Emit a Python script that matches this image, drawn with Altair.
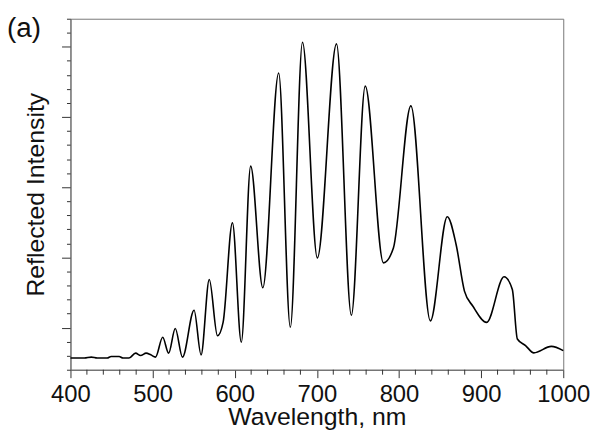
import altair as alt
import pandas as pd

# Values (wavelength in nm, intensity in arbitrary units)
wavelength = [400, 416.9, 425.4, 432.6, 444.7, 449.5, 459.2, 464.0, 471.2, 479.3,
              485.4, 492.1, 497.8, 503.5, 512.3, 519.5, 527.6, 536.4, 550.5, 559.0,
              569.0, 579.0, 585.9, 597.2, 608.0, 619.4, 634.2, 653.5, 667.7, 682.5,
              700.6, 723.9, 742.0, 758.9, 781.1, 793.2, 814.5, 838.2, 858.8, 869.6,
              879.7, 889.8, 906.7, 927.9, 938.0, 944.1, 954.1, 964.2, 985.5, 1000]
intensity = [0.83, 0.83, 0.90, 0.83, 0.83, 0.94, 0.94, 0.83, 0.83, 1.18,
             1.01, 1.18, 1.06, 0.90, 2.31, 1.18, 2.94, 0.90, 4.24, 1.06,
             6.43, 2.42, 3.39, 10.47, 1.96, 14.50, 5.84, 21.14, 3.02, 23.33,
             7.96, 23.21, 3.88, 20.20, 7.61, 8.67, 18.79, 3.48, 10.90, 8.90,
             5.60, 4.54, 3.37, 6.62, 5.72, 2.19, 1.72, 1.20, 1.66, 1.36]

x_major_ticks = list(range(400, 1001, 100))
x_minor_ticks = [v for v in range(400, 1001, 20) if v % 100 != 0]
y_ticks = list(range(0, 26))
panel_label = ["(a)"]

FONT = "Liberation Sans"

df = pd.DataFrame({"wavelength": wavelength, "intensity": intensity})
minor_df = pd.DataFrame({"wavelength": x_minor_ticks})

x_scale = alt.Scale(domain=[400, 1000], nice=False, zero=False)
x_axis = alt.Axis(
    values=x_major_ticks,
    format="d",
    title="Wavelength, nm",
    grid=False,
    labelOverlap=False,
    labelFlush=False,
    labelFont=FONT,
    labelFontSize=24,
    labelColor="#111",
    labelBaseline="alphabetic",
    labelPadding=24,
    tickSize=8,
    tickColor="#333",
    tickWidth=1,
    domainColor="#666",
    titleFont=FONT,
    titleFontSize=25,
    titleFontWeight="normal",
    titleColor="#111",
    titleBaseline="alphabetic",
    titleY=55,
)

line = alt.Chart(df).mark_line(color="black", strokeWidth=1.6, interpolate="monotone").encode(
    x=alt.X("wavelength:Q", scale=x_scale, axis=x_axis, title="Wavelength, nm"),
    y=alt.Y(
        "intensity:Q",
        scale=alt.Scale(domain=[0, 25], nice=False, zero=False),
        axis=alt.Axis(
            values=y_ticks,
            labels=False,
            title="Reflected Intensity",
            grid=False,
            tickSize={"condition": {"test": "(datum.value - 3) % 5 === 0", "value": 9}, "value": 4},
            tickColor="#333",
            tickWidth=1,
            domainColor="#666",
            titleFont=FONT,
            titleFontSize=25,
            titleFontWeight="normal",
            titleColor="#111",
            titleBaseline="alphabetic",
            titleAngle=270,
            titleX=-27,
            titleY=177,
        ),
    ),
)

minor = alt.Chart(minor_df).mark_rule(color="#333", strokeWidth=1).encode(
    x=alt.X("wavelength:Q", scale=x_scale, axis=x_axis, title="Wavelength, nm"),
    y=alt.value(354),
    y2=alt.value(359),
)

label = alt.Chart(pd.DataFrame({"label": panel_label})).mark_text(
    align="left", baseline="alphabetic", fontSize=28, font=FONT, color="#111"
).encode(text="label:N", x=alt.value(-64), y=alt.value(18))

chart = alt.layer(line, minor, label).properties(
    width=497,
    height=354,
    autosize="none",
    padding={"left": 63, "top": 9, "right": 30, "bottom": 62},
).configure_view(stroke="#777", strokeWidth=1)

chart.save("out.html", embed_options={"renderer": "svg", "actions": False})
